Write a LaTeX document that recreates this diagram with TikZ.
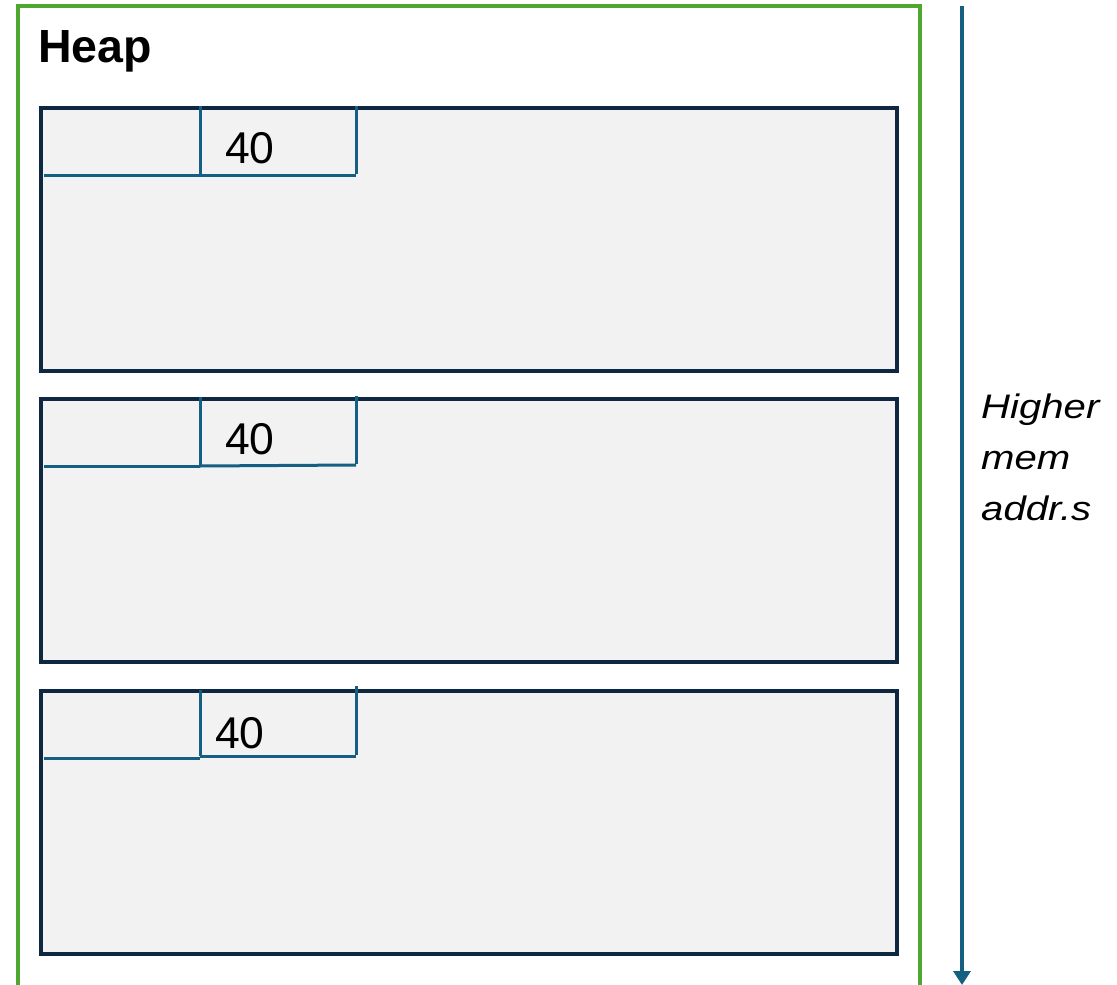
\documentclass[tikz,border=0pt]{standalone}
\usepackage{fontspec}
\setmainfont{Liberation Sans}
\newfontfamily\widesans[FakeStretch=1.18]{Liberation Sans}
\usetikzlibrary{arrows.meta}
\definecolor{heapgreen}{HTML}{4EA72E}
\definecolor{memblue}{HTML}{156082}
\definecolor{boxnavy}{HTML}{0E2841}
\definecolor{boxfill}{HTML}{F2F2F2}
\tikzset{
  chunk/.style={draw=boxnavy, fill=boxfill, line width=4pt, rectangle, inner sep=0pt, outer sep=0pt,
    minimum width=856pt, minimum height=263pt, anchor=north west},
  cell/.style={draw=memblue, line width=3pt},
  frame/.style={draw=heapgreen, line width=4pt},
  dirarrow/.style={draw=memblue, line width=4pt, -{Triangle[width=17pt,length=14pt]}},
  lbl/.style={inner sep=0pt, anchor=base west, font=\fontsize{44.5}{53}\selectfont},
}
\begin{document}
\begin{tikzpicture}[x=1pt,y=-1pt]
\useasboundingbox (0,0) rectangle (1117,985);
% heap frame
\coordinate (fbl) at (18,987);
\coordinate (ftl) at (18,6);
\coordinate (ftr) at (920,6);
\coordinate (fbr) at (920,987);
\draw[frame] (fbl) -- (ftl) -- (ftr) -- (fbr);
\node[lbl, font=\fontsize{46.5}{55}\selectfont\bfseries] (heap) at (38,62) {Heap};
% chunks
\node[chunk] (b1) at (41,108) {};
\node[chunk] (b2) at (41,399) {};
\node[chunk] (b3) at (41,691) {};
% cells box 1
\coordinate (a1) at (44,175); \coordinate (a2) at (200,175); \coordinate (a3) at (356,175);
\coordinate (a4) at (200,106); \coordinate (a5) at (356,106);
\draw[cell] (a1) -- (a2) -- (a3);
\draw[cell] (a4) -- ([yshift=1.5pt]a2);
\draw[cell] (a5) -- ([yshift=1.5pt]a3);
\node[lbl] (t1) at (225,163) {40};
% cells box 2
\coordinate (c1) at (44,466); \coordinate (c2) at (200,466); \coordinate (c3) at (356,465);
\coordinate (c4) at (200,397); \coordinate (c5) at (356,396);
\draw[cell] (c1) -- (c2);
\draw[cell] (c2) -- (c3);
\draw[cell] (c4) -- ([yshift=1.5pt]c2);
\draw[cell] (c5) -- ([yshift=1.5pt]c3);
\node[lbl] (t2) at (225,454) {40};
% cells box 3
\coordinate (d1) at (44,758); \coordinate (d2) at (200,758); \coordinate (d2b) at (200,756); \coordinate (d3) at (356,756);
\coordinate (d4) at (200,690); \coordinate (d5) at (356,686);
\draw[cell] (d1) -- (d2);
\draw[cell] (d2b) -- (d3);
\draw[cell] (d4) -- ([yshift=2pt]d2);
\draw[cell] (d5) -- ([yshift=1.5pt]d3);
\node[lbl] (t3) at (215,748) {40};
% direction arrow
\coordinate (atop) at (962,6);
\coordinate (abot) at (962,985);
\draw[dirarrow] (atop) -- (abot);
\node[inner sep=0pt, anchor=base west, align=left,
  font=\widesans\itshape\fontsize{34}{51}\selectfont] (hint) at (981,520)
  {Higher\\mem\\addr.s};
\end{tikzpicture}
\end{document}
